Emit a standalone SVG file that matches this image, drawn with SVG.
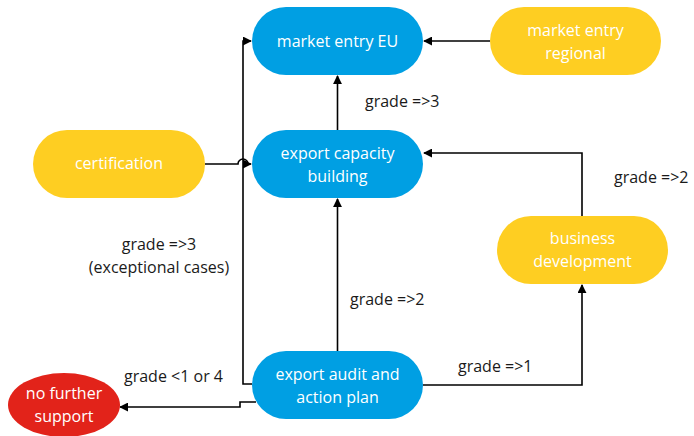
<svg xmlns="http://www.w3.org/2000/svg" width="694" height="436" viewBox="0 0 694 436">
<defs>
<marker id="ah" viewBox="0 0 10 10" refX="9" refY="5" markerWidth="9" markerHeight="9" markerUnits="userSpaceOnUse" orient="auto">
<path d="M0,0 L10,5 L0,10 z" fill="#000"/>
</marker>
<style>
.blue{fill:#009FE3}
.yellow{fill:#FECE22}
.red{fill:#E2231A}
.nt{font-family:"Open Sans","Noto Sans",sans-serif;font-size:16px;fill:#fff;text-anchor:middle}
.lb{font-family:"Open Sans","Noto Sans",sans-serif;font-size:16px;fill:#1a1a1a}
.c{fill:none;stroke:#000;stroke-width:1.6}
</style>
</defs>
<rect width="694" height="436" fill="#fff"/>
<g id="connectors">
<path class="c" d="M490,41 H424" marker-end="url(#ah)"/>
<path class="c" d="M337.5,130 V76" marker-end="url(#ah)"/>
<path class="c" d="M582,216 V153 H424" marker-end="url(#ah)"/>
<path class="c" d="M423,385 H582 V285" marker-end="url(#ah)"/>
<path class="c" d="M337.5,351 V199" marker-end="url(#ah)"/>
<path class="c" d="M252,384 H243 V41 H251" marker-end="url(#ah)"/>
<path class="c" d="M205,164 H238 A5,5 0 0 1 248,164 H251" marker-end="url(#ah)"/>
<path class="c" d="M256,402 H240 V407 H120" marker-end="url(#ah)"/>
<text class="lb" x="365" y="107">grade =&gt;3</text>
<text class="lb" x="614" y="183">grade =&gt;2</text>
<text class="lb" x="350" y="305">grade =&gt;2</text>
<text class="lb" x="458" y="372">grade =&gt;1</text>
<text class="lb" x="124" y="382">grade &lt;1 or 4</text>
<text class="lb" x="159" y="250" text-anchor="middle">grade =&gt;3</text>
<text class="lb" x="159" y="273" text-anchor="middle">(exceptional cases)</text>
</g>
<g id="market-entry-eu">
<rect class="blue" x="252" y="7" width="171" height="68" rx="34"/>
<text class="nt" x="337.5" y="47">market entry EU</text>
</g>
<g id="market-entry-regional">
<rect class="yellow" x="490" y="7" width="171" height="68" rx="34"/>
<text class="nt" x="575.5" y="36">market entry</text>
<text class="nt" x="575.5" y="59">regional</text>
</g>
<g id="export-capacity-building">
<rect class="blue" x="252" y="130" width="171" height="68" rx="34"/>
<text class="nt" x="337.5" y="159">export capacity</text>
<text class="nt" x="337.5" y="182">building</text>
</g>
<g id="certification">
<rect class="yellow" x="33" y="130" width="172" height="68" rx="34"/>
<text class="nt" x="119" y="169">certification</text>
</g>
<g id="business-development">
<rect class="yellow" x="497" y="216" width="171" height="68" rx="34"/>
<text class="nt" x="582.5" y="244">business</text>
<text class="nt" x="582.5" y="267">development</text>
</g>
<g id="export-audit">
<rect class="blue" x="252" y="351" width="171" height="68" rx="34"/>
<text class="nt" x="337.5" y="380">export audit and</text>
<text class="nt" x="337.5" y="403">action plan</text>
</g>
<g id="no-further-support">
<ellipse class="red" cx="64" cy="405" rx="56" ry="32"/>
<text class="nt" x="64" y="399">no further</text>
<text class="nt" x="64" y="422">support</text>
</g>
</svg>
